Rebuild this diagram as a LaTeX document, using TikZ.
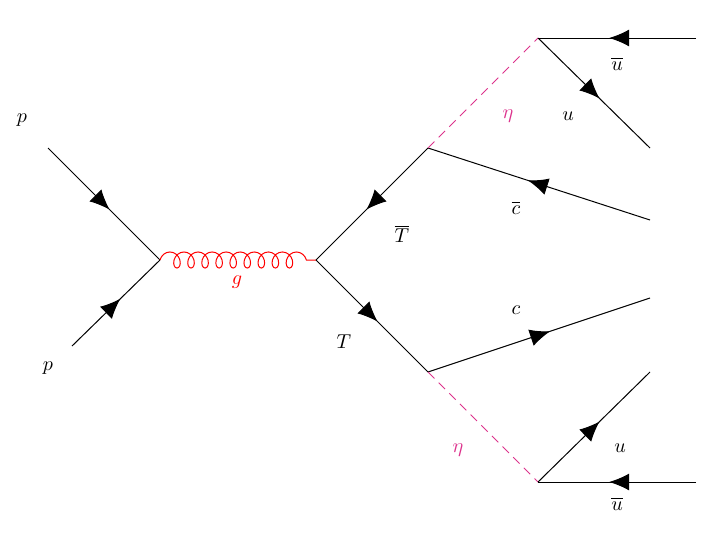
\documentclass[tikz,border=0pt]{standalone}
\usepackage{amsmath}
\usetikzlibrary{decorations.markings, decorations.pathmorphing, arrows.meta}
\definecolor{etacol}{RGB}{220, 50, 140}

\begin{document}
\begin{tikzpicture}[
    x=0.035cm, y=-0.035cm,
    line width=1pt,
    fermion/.style={postaction={decorate}, decoration={markings, mark=at position 0.55 with {\arrow{Latex[length=20pt,width=17pt]}}}},
    gluon/.style={red, decorate, decoration={coil, aspect=0.8, amplitude=8pt, segment length=14pt, post length=6pt}},
    scalar/.style={etacol, dash pattern=on 9pt off 6pt},
    lbl/.style={scale=2}
]
    \useasboundingbox (0,0) rectangle (718,544);
    % vertices and ends
    \coordinate (pa) at (48,148);
    \coordinate (pb) at (72,346);
    \coordinate (v1) at (160,260);
    \coordinate (v2) at (316,260);
    \coordinate (vt) at (428,148);
    \coordinate (vb) at (428,372);
    \coordinate (cbe) at (650,220);
    \coordinate (ce) at (650,298);
    \coordinate (et) at (538,38);
    \coordinate (eb) at (538,482);
    \coordinate (ubt) at (696,38);
    \coordinate (ut) at (650,148);
    \coordinate (ub) at (650,372);
    \coordinate (ubb) at (696,482);

    \draw[fermion] (pa) -- (v1);
    \draw[fermion] (pb) -- (v1);
    \draw[gluon] (v1) -- (v2);
    \draw[fermion] (vt) -- (v2);
    \draw[fermion] (v2) -- (vb);
    \draw[fermion] (cbe) -- (vt);
    \draw[fermion] (vb) -- (ce);
    \draw[scalar] (vt) -- (et);
    \draw[scalar] (vb) -- (eb);
    \draw[fermion] (ubt) -- (et);
    \draw[fermion] (et) -- (ut);
    \draw[fermion] (eb) -- (ub);
    \draw[fermion] (ubb) -- (eb);

    % labels
    \node[lbl] (lpa) at (22,120) {$p$};
    \node[lbl] (lpb) at (48,368) {$p$};
    \node[lbl, red] (lg) at (237,282) {$g$};
    \node[lbl] (ltb) at (402,234) {$\overline{T}$};
    \node[lbl] (lt) at (344,342) {$T$};
    \node[lbl] (lcb) at (516,208) {$\overline{c}$};
    \node[lbl] (lc) at (516,310) {$c$};
    \node[lbl, etacol] (let) at (508,116) {$\eta$};
    \node[lbl, etacol] (leb) at (458,450) {$\eta$};
    \node[lbl] (lut) at (568,116) {$u$};
    \node[lbl] (lubt) at (617,64) {$\overline{u}$};
    \node[lbl] (lub) at (620,448) {$u$};
    \node[lbl] (lubb) at (617,504) {$\overline{u}$};
\end{tikzpicture}
\end{document}
